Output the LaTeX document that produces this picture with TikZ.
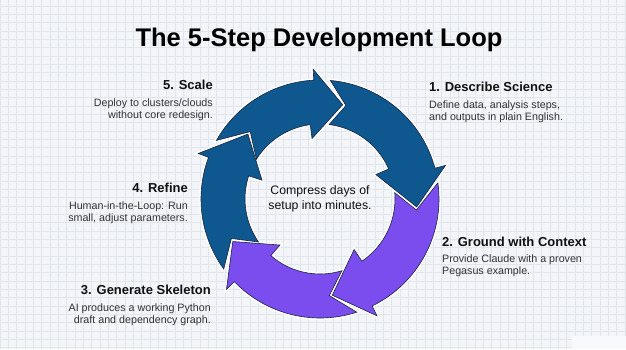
\documentclass[tikz,border=0pt]{standalone}
\usepackage{fontspec}
\setmainfont{Liberation Sans}
\definecolor{bgc}{HTML}{F3F5F9}
\definecolor{gridc}{HTML}{E1E5EC}
\definecolor{patchc}{HTML}{F7F9FC}
\definecolor{arrblue}{HTML}{0E588F}
\definecolor{arrpurple}{HTML}{7C4DEE}
\definecolor{edgec}{HTML}{1B2540}
\definecolor{headc}{HTML}{111111}
\definecolor{descc}{HTML}{333333}
\def\Rout{119}
\def\Rin{75}
\def\Hout{130}
\def\Hin{61}
\def\Rmid{97}
% #1 tail outer, #2 tail inner, #3 notch apex, #4 head outer base, #5 head inner base, #6 tip
\newcommand{\looparrowpath}[6]{(#1:\Rout) arc[start angle=#1, end angle=#4, radius=\Rout] -- (#4:\Hout) -- (#6:\Rmid) -- (#5:\Hin) -- (#5:\Rin) arc[start angle=#5, end angle=#2, radius=\Rin] -- (#3:\Rmid) -- cycle}
\tikzset{
  halo/.style={draw=white, line width=3.4pt, line join=miter},
  bluearrow/.style={fill=arrblue, draw=edgec, line width=0.6pt, line join=miter},
  purplearrow/.style={fill=arrpurple, draw=edgec, line width=0.6pt, line join=miter},
  headtxt/.style={font=\fontsize{13}{15}\selectfont\bfseries, text=headc, inner sep=0pt},
  desctxt/.style={font=\fontsize{10.7}{12}\selectfont, text=descc, inner sep=0pt},
  centertxt/.style={font=\fontsize{12.3}{14}\selectfont, text=headc, inner sep=0pt},
}
\begin{document}
\begin{tikzpicture}[x=1pt, y=-1pt]
\useasboundingbox (0,0) rectangle (626,349);
\fill[bgc] (0,0) rectangle (626,349);
\foreach \i in {0,...,75} \draw[gridc, line width=0.5pt] (\i*8.333,0) -- (\i*8.333,349);
\foreach \j in {0,...,42} \draw[gridc, line width=0.5pt] (0,6+\j*8.333-8.333) -- (626,6+\j*8.333-8.333);
\fill[patchc] (572,336) rectangle (626,349);

\node[font=\fontsize{25.5}{30}\selectfont\bfseries, text=black, inner sep=0pt] (title) at (319,40) {The 5-Step Development Loop};

\begin{scope}[shift={(320,199)}, yscale=-1]
  % halos
  \path[halo] \looparrowpath{85}{83}{74.5}{15}{23.6}{-4.7};
  \path[halo] \looparrowpath{7.8}{4.8}{-6.5}{-64}{-56}{-82.7};
  \path[halo] \looparrowpath{-72}{-73}{-84.5}{-136}{-131}{-154};
  \path[halo] \looparrowpath{-144}{-145}{-156}{-200.5}{-198}{-222};
  \path[halo] \looparrowpath{-209.5}{-212}{-224}{-267}{-262.5}{-283.5};
  % arrows
  \path[bluearrow] \looparrowpath{85}{83}{74.5}{15}{23.6}{-4.7};
  \path[purplearrow] \looparrowpath{7.8}{4.8}{-6.5}{-64}{-56}{-82.7};
  \path[purplearrow] \looparrowpath{-72}{-73}{-84.5}{-136}{-131}{-154};
  \path[bluearrow] \looparrowpath{-144}{-145}{-156}{-200.5}{-198}{-222};
  \path[bluearrow] \looparrowpath{-209.5}{-212}{-224}{-267}{-262.5}{-283.5};
\end{scope}

\node[centertxt, anchor=base] (c1) at (320,194.4) {Compress days of};
\node[centertxt, anchor=base] (c2) at (320,209.4) {setup into minutes.};

% 1
\node[headtxt, anchor=base west] (h1) at (429,91.6) {1. Describe Science};
\node[desctxt, anchor=base west] (d1a) at (429,108.8) {Define data, analysis steps,};
\node[desctxt, anchor=base west] (d1b) at (429,120.8) {and outputs in plain English.};
% 2
\node[headtxt, anchor=base west] (h2) at (442,246.6) {2. Ground with Context};
\node[desctxt, anchor=base west] (d2a) at (442,262.8) {Provide Claude with a proven};
\node[desctxt, anchor=base west] (d2b) at (442,274.8) {Pegasus example.};
% 3
\node[headtxt, anchor=base east] (h3) at (211,294.6) {3. Generate Skeleton};
\node[desctxt, anchor=base east] (d3a) at (211,311.8) {AI produces a working Python};
\node[desctxt, anchor=base east] (d3b) at (211,323.8) {draft and dependency graph.};
% 4
\node[headtxt, anchor=base east] (h4) at (188,192.6) {4. Refine};
\node[desctxt, anchor=base east] (d4a) at (188,209.8) {Human-in-the-Loop: Run};
\node[desctxt, anchor=base east] (d4b) at (188,221.8) {small, adjust parameters.};
% 5
\node[headtxt, anchor=base east] (h5) at (213,89.6) {5. Scale};
\node[desctxt, anchor=base east] (d5a) at (213,106.8) {Deploy to clusters/clouds};
\node[desctxt, anchor=base east] (d5b) at (213,118.8) {without core redesign.};
\end{tikzpicture}
\end{document}
